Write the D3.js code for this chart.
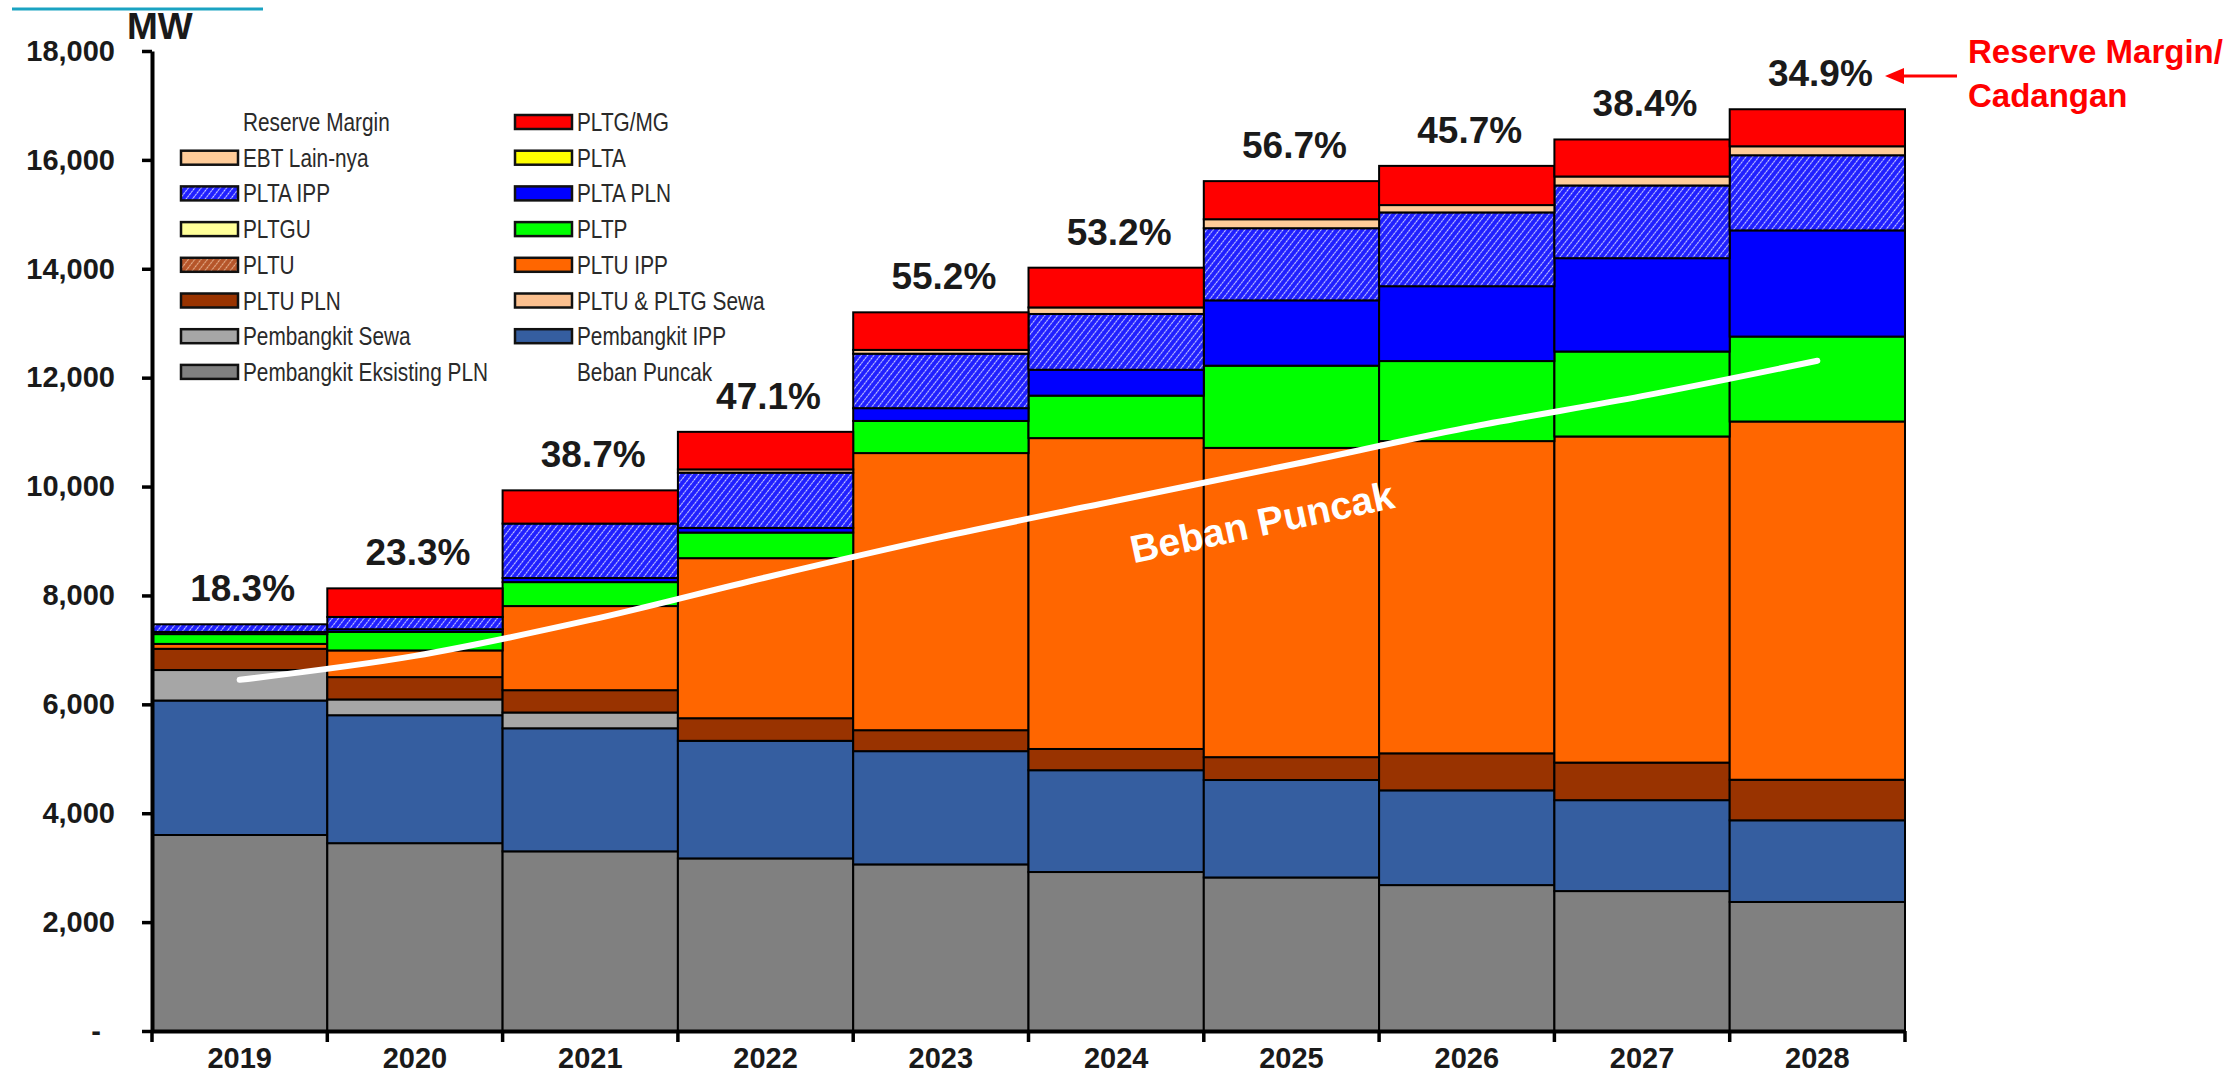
<!DOCTYPE html>
<html>
<head>
<meta charset="utf-8">
<script src="https://cdn.jsdelivr.net/npm/d3@7"></script>
<style>
  body { margin: 0; background: #fff; }
  text { font-family: "Liberation Sans", Arial, sans-serif; }
</style>
</head>
<body>
<div id="chart"></div>
<script>
// Data (MW)
const years = ['2019', '2020', '2021', '2022', '2023', '2024', '2025', '2026', '2027', '2028'];
const reserveMargin = ['18.3%', '23.3%', '38.7%', '47.1%', '55.2%', '53.2%', '56.7%', '45.7%', '38.4%', '34.9%'];

const eksistingPln = [3600, 3450, 3300, 3170, 3060, 2920, 2820, 2680, 2570, 2370];
const pembangkitIpp = [2470, 2350, 2260, 2160, 2080, 1870, 1790, 1740, 1670, 1500];
const pembangkitSewa = [560, 290, 290, 0, 0, 0, 0, 0, 0, 0];
const pltuPltgSewa = [0, 0, 0, 0, 0, 0, 0, 0, 0, 0];
const pltuPln = [390, 410, 410, 415, 385, 390, 420, 680, 690, 745];
const pltuIpp = [90, 490, 1545, 2940, 5090, 5710, 5680, 5735, 5990, 6580];
const pltu = [0, 0, 0, 0, 0, 0, 0, 0, 0, 0];
const pltp = [180, 340, 440, 470, 590, 780, 1510, 1470, 1560, 1560];
const pltgu = [0, 0, 0, 0, 0, 0, 0, 0, 0, 0];
const pltaPln = [40, 50, 75, 85, 235, 475, 1200, 1375, 1715, 1950];
const plta = [0, 0, 0, 0, 0, 0, 0, 0, 0, 0];
const pltaIpp = [140, 225, 1000, 1015, 1000, 1025, 1325, 1355, 1335, 1380];
const ebtLain = [0, 0, 0, 60, 70, 120, 165, 135, 165, 165];
const pltgMg = [0, 525, 610, 690, 690, 730, 700, 720, 680, 680];

const bebanPuncak = [6450, 6890, 7550, 8330, 9070, 9740, 10400, 11080, 11660, 12310];
const yTicks = [0, 2000, 4000, 6000, 8000, 10000, 12000, 14000, 16000, 18000];

const legendLeft = ['Reserve Margin', 'EBT Lain-nya', 'PLTA IPP', 'PLTGU', 'PLTU', 'PLTU PLN', 'Pembangkit Sewa', 'Pembangkit Eksisting PLN'];
const legendRight = ['PLTG/MG', 'PLTA', 'PLTA PLN', 'PLTP', 'PLTU IPP', 'PLTU & PLTG Sewa', 'Pembangkit IPP', 'Beban Puncak'];

// Series, bottom to top of the stack
const series = [
  { key: 'eksisting', name: 'Pembangkit Eksisting PLN', values: eksistingPln, fill: '#808080' },
  { key: 'ipp', name: 'Pembangkit IPP', values: pembangkitIpp, fill: '#355ea0' },
  { key: 'sewa', name: 'Pembangkit Sewa', values: pembangkitSewa, fill: '#a6a6a6' },
  { key: 'pltuSewa', name: 'PLTU & PLTG Sewa', values: pltuPltgSewa, fill: '#fbc08f' },
  { key: 'pltuPln', name: 'PLTU PLN', values: pltuPln, fill: '#993300' },
  { key: 'pltuIpp', name: 'PLTU IPP', values: pltuIpp, fill: '#ff6600' },
  { key: 'pltu', name: 'PLTU', values: pltu, fill: 'url(#hatchBrown)' },
  { key: 'pltp', name: 'PLTP', values: pltp, fill: '#00ff00' },
  { key: 'pltgu', name: 'PLTGU', values: pltgu, fill: '#ffff99' },
  { key: 'pltaPln', name: 'PLTA PLN', values: pltaPln, fill: '#0000ff' },
  { key: 'plta', name: 'PLTA', values: plta, fill: '#ffff00' },
  { key: 'pltaIpp', name: 'PLTA IPP', values: pltaIpp, fill: 'url(#hatchBlue)' },
  { key: 'ebt', name: 'EBT Lain-nya', values: ebtLain, fill: '#ffcc99' },
  { key: 'pltg', name: 'PLTG/MG', values: pltgMg, fill: '#ff0000' }
];

const table = years.map((yr, i) => {
  const row = { year: yr };
  series.forEach(s => { row[s.key] = s.values[i]; });
  return row;
});

// Dimensions
const W = 2223, H = 1076;
const plot = { left: 152, right: 1905, top: 51, bottom: 1031 };

const svg = d3.select('#chart')
  .append('svg')
  .attr('width', W)
  .attr('height', H);

// Patterns for the hatched series
const defs = svg.append('defs');
function hatch(id, bg, stroke) {
  const p = defs.append('pattern')
    .attr('id', id)
    .attr('patternUnits', 'userSpaceOnUse')
    .attr('width', 5)
    .attr('height', 6)
    .attr('patternTransform', 'rotate(38)');
  p.append('rect').attr('width', 5).attr('height', 6).attr('fill', bg);
  p.append('line')
    .attr('x1', 2.5).attr('y1', 0).attr('x2', 2.5).attr('y2', 6)
    .attr('stroke', stroke)
    .attr('stroke-width', 1.1)
    .attr('stroke-dasharray', '2.5 0.5')
    .attr('opacity', 0.75);
}
hatch('hatchBlue', '#1f1fff', '#ffffff');
hatch('hatchBrown', '#b5552a', '#f3c9a8');

// Scales
const x = d3.scaleBand()
  .domain(years)
  .range([plot.left, plot.right])
  .padding(0);

const y = d3.scaleLinear()
  .domain([0, 18000])
  .range([plot.bottom, plot.top]);

// Stacked bars
const stacked = d3.stack().keys(series.map(s => s.key))(table);

svg.append('g')
  .selectAll('g')
  .data(stacked)
  .enter()
  .append('g')
  .attr('fill', (d, i) => series[i].fill)
  .selectAll('rect')
  .data(d => d.filter(v => v[1] - v[0] > 0))
  .enter()
  .append('rect')
  .attr('x', d => x(d.data.year))
  .attr('width', x.bandwidth())
  .attr('y', d => y(d[1]))
  .attr('height', d => y(d[0]) - y(d[1]))
  .attr('stroke', '#000')
  .attr('stroke-width', 2);

// Reserve margin labels above the bars
const totals = table.map(r => d3.sum(series, s => r[s.key]));
svg.append('g')
  .selectAll('text')
  .data(years)
  .enter()
  .append('text')
  .attr('x', d => x(d) + x.bandwidth() / 2 + 3)
  .attr('y', (d, i) => y(totals[i]) - 23)
  .attr('text-anchor', 'middle')
  .attr('font-size', 37)
  .attr('font-weight', 'bold')
  .attr('fill', '#1a1a1a')
  .text((d, i) => reserveMargin[i]);

// Peak load line
const line = d3.line()
  .x((d, i) => x(years[i]) + x.bandwidth() / 2)
  .y(d => y(d))
  .curve(d3.curveCatmullRom.alpha(0.5));

svg.append('path')
  .datum(bebanPuncak)
  .attr('d', line)
  .attr('fill', 'none')
  .attr('stroke', '#fff')
  .attr('stroke-width', 6)
  .attr('stroke-linecap', 'round');

svg.append('text')
  .attr('transform', 'translate(1262,522) rotate(-12)')
  .attr('text-anchor', 'middle')
  .attr('dy', '0.35em')
  .attr('font-family', '"Open Sans", sans-serif')
  .attr('font-size', 39)
  .attr('font-weight', 'bold')
  .attr('fill', '#fff')
  .text('Beban Puncak');

// Y axis
const yAxis = svg.append('g')
  .attr('transform', `translate(${plot.left},0)`)
  .call(d3.axisLeft(y)
    .tickValues(yTicks)
    .tickSize(10)
    .tickSizeOuter(0)
    .tickPadding(27)
    .tickFormat(d => d === 0 ? '-' : d3.format(',')(d)));

yAxis.select('.domain').attr('stroke', '#000').attr('stroke-width', 4);
yAxis.selectAll('.tick line').attr('stroke', '#000').attr('stroke-width', 3.5);
yAxis.selectAll('.tick text')
  .attr('font-size', 29)
  .attr('font-weight', 'bold')
  .attr('fill', '#1a1a1a')
  .attr('font-family', '"Liberation Sans", Arial, sans-serif')
  .attr('dx', d => d === 0 ? -14 : 0);

// X axis: labels centred, ticks on band edges
const xAxis = svg.append('g')
  .attr('transform', `translate(0,${plot.bottom})`)
  .call(d3.axisBottom(x).tickSize(0).tickSizeOuter(0));

xAxis.select('.domain').attr('stroke', '#000').attr('stroke-width', 4);
xAxis.selectAll('.tick text')
  .attr('y', 37)
  .attr('dy', 0)
  .attr('font-size', 29)
  .attr('font-weight', 'bold')
  .attr('fill', '#1a1a1a')
  .attr('font-family', '"Liberation Sans", Arial, sans-serif');

const edges = years.map(d => x(d)).concat([x(years[years.length - 1]) + x.bandwidth()]);
xAxis.selectAll('.edge')
  .data(edges)
  .enter()
  .append('line')
  .attr('class', 'edge')
  .attr('x1', d => d)
  .attr('x2', d => d)
  .attr('y1', 0)
  .attr('y2', 11)
  .attr('stroke', '#000')
  .attr('stroke-width', 3.5);

// Units
svg.append('text')
  .attr('x', 127)
  .attr('y', 39)
  .attr('font-size', 37)
  .attr('font-weight', 'bold')
  .attr('fill', '#1a1a1a')
  .text('MW');

// Thin teal rule at the top left
svg.append('line')
  .attr('x1', 12).attr('x2', 263)
  .attr('y1', 9).attr('y2', 9)
  .attr('stroke', '#1aa3c2')
  .attr('stroke-width', 3);

// Legend
const fillByName = {};
series.forEach(s => { fillByName[s.name] = s.fill; });

const legend = svg.append('g');
const rowY = i => 122 + i * 35.7;
[[legendLeft, 181], [legendRight, 515]].forEach(([names, x0]) => {
  const g = legend.append('g');
  const item = g.selectAll('g')
    .data(names)
    .enter()
    .append('g')
    .attr('transform', (d, i) => `translate(${x0},${rowY(i)})`);

  item.filter(d => fillByName[d])
    .append('rect')
    .attr('x', 0)
    .attr('y', -7)
    .attr('width', 57)
    .attr('height', 14)
    .attr('fill', d => fillByName[d])
    .attr('stroke', '#111')
    .attr('stroke-width', 2.5);

  item.append('text')
    .attr('transform', 'translate(62,9) scale(0.8,1)')
    .attr('font-size', 26)
    .attr('fill', '#2a2a2a')
    .text(d => d);
});

// Reserve margin callout
svg.append('text')
  .attr('x', 1968)
  .attr('y', 63)
  .attr('font-family', '"Open Sans", sans-serif')
  .attr('font-size', 33)
  .attr('font-weight', 'bold')
  .attr('fill', '#ff0000')
  .text('Reserve Margin/');

svg.append('text')
  .attr('x', 1968)
  .attr('y', 107)
  .attr('font-family', '"Open Sans", sans-serif')
  .attr('font-size', 33)
  .attr('font-weight', 'bold')
  .attr('fill', '#ff0000')
  .text('Cadangan');

svg.append('line')
  .attr('x1', 1957).attr('x2', 1900)
  .attr('y1', 76).attr('y2', 76)
  .attr('stroke', '#ff0000')
  .attr('stroke-width', 3);

svg.append('path')
  .attr('d', 'M1885,76 L1904,68 L1904,84 Z')
  .attr('fill', '#ff0000');
</script>
</body>
</html>
